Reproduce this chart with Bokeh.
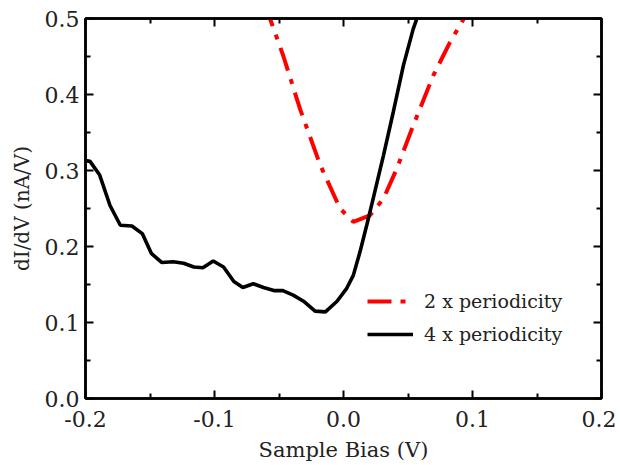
from bokeh.plotting import figure
from bokeh.models import (LinearAxis, FixedTicker, PrintfTickFormatter,
                          CustomJSTickFormatter, Range1d, Legend, LegendItem,
                          ColumnDataSource)
from bokeh.embed import file_html
from bokeh.resources import INLINE

# ---- data ----
bias_4x = [-0.2, -0.1965, -0.189, -0.181, -0.173, -0.164, -0.156, -0.149,
           -0.141, -0.132, -0.124, -0.116, -0.109, -0.101, -0.093, -0.085,
           -0.078, -0.070, -0.062, -0.054, -0.047, -0.039, -0.031, -0.022,
           -0.014, -0.005, 0.0025, 0.0076, 0.0128, 0.018, 0.023, 0.031,
           0.0386, 0.0464, 0.054, 0.060]
didv_4x = [0.313, 0.312, 0.294, 0.254, 0.228, 0.227, 0.217, 0.191,
           0.179, 0.180, 0.178, 0.173, 0.172, 0.181, 0.173, 0.154,
           0.146, 0.151, 0.146, 0.142, 0.142, 0.136, 0.128, 0.115,
           0.114, 0.128, 0.145, 0.162, 0.193, 0.228, 0.263, 0.320,
           0.377, 0.438, 0.486, 0.515]

bias_2x = [-0.0605, -0.057, -0.0467, -0.0337, -0.018, -0.0027, 0.0076,
           0.0205, 0.031, 0.0412, 0.054, 0.0696, 0.0826, 0.093, 0.097]
didv_2x = [0.520, 0.500, 0.451, 0.381, 0.307, 0.250, 0.2325,
           0.241, 0.263, 0.302, 0.359, 0.425, 0.469, 0.499, 0.515]

x_major = [-0.2, -0.1, 0.0, 0.1, 0.2]
x_minor = [-0.15, -0.05, 0.05, 0.15]
y_major = [0.0, 0.1, 0.2, 0.3, 0.4, 0.5]
y_minor = [0.05, 0.15, 0.25, 0.35, 0.45]

label_2x = "2 x periodicity"
label_4x = "4 x periodicity"
x_title = "Sample Bias (V)"
y_title = "dI/dV (nA/V)"

FONT = "DejaVu Serif"

p = figure(width=616, height=464, output_backend="svg",
           toolbar_location=None,
           x_range=Range1d(-0.2, 0.2), y_range=Range1d(0.0, 0.5),
           x_axis_location=None, y_axis_location=None,
           min_border_left=85, min_border_right=15,
           min_border_top=18, min_border_bottom=65)
p.xgrid.visible = False
p.ygrid.visible = False
p.outline_line_color = "black"
p.outline_line_width = 2.5
p.background_fill_color = "white"
p.border_fill_color = "white"

src4 = ColumnDataSource(dict(x=bias_4x, y=didv_4x))
src2 = ColumnDataSource(dict(x=bias_2x, y=didv_2x))

r2 = p.line("x", "y", source=src2, line_color="#ff0000", line_width=4,
            line_dash="24 9 5 9")
r4 = p.line("x", "y", source=src4, line_color="black", line_width=3.6)


def style(ax, show_labels, xdir):
    ax.ticker = FixedTicker(ticks=(x_major if xdir else y_major),
                            minor_ticks=(x_minor if xdir else y_minor))
    ax.axis_line_width = 2.5
    ax.axis_line_color = "black"
    ax.major_tick_in = 8
    ax.major_tick_out = 0
    ax.minor_tick_in = 5
    ax.minor_tick_out = 0
    ax.major_tick_line_width = 2
    ax.minor_tick_line_width = 2
    ax.major_label_text_font = FONT
    ax.axis_label_text_font = FONT
    ax.axis_label_text_font_style = "normal"
    ax.major_label_text_color = "#222222"
    ax.axis_label_text_color = "#222222"
    if show_labels:
        ax.formatter = PrintfTickFormatter(format="%.1f")
        ax.major_label_text_font_size = "22px"
    else:
        ax.formatter = CustomJSTickFormatter(code="return ''")
        ax.major_label_text_font_size = "1px"
        ax.major_label_standoff = 0


xb = LinearAxis(axis_label=x_title)
style(xb, True, True)
xb.axis_label_text_font_size = "21px"
xb.major_label_standoff = 12
xb.axis_label_standoff = 8
p.add_layout(xb, "below")

yl = LinearAxis(axis_label=y_title)
style(yl, True, False)
yl.axis_label_text_font_size = "20px"
yl.major_label_standoff = 6
yl.axis_label_standoff = 8
p.add_layout(yl, "left")

xa = LinearAxis()
style(xa, False, True)
p.add_layout(xa, "above")

yr = LinearAxis()
style(yr, False, False)
p.add_layout(yr, "right")

legend = Legend(items=[LegendItem(label=label_2x, renderers=[r2]),
                       LegendItem(label=label_4x, renderers=[r4])],
                location=(282, 53), orientation="vertical",
                border_line_color=None, background_fill_alpha=0,
                padding=0, margin=0, spacing=11,
                glyph_width=46, glyph_height=20, label_height=20,
                label_standoff=11, label_text_font=FONT,
                label_text_font_size="19px", label_text_color="#222222")
p.add_layout(legend)

open("out.html", "w").write(file_html(p, INLINE))
